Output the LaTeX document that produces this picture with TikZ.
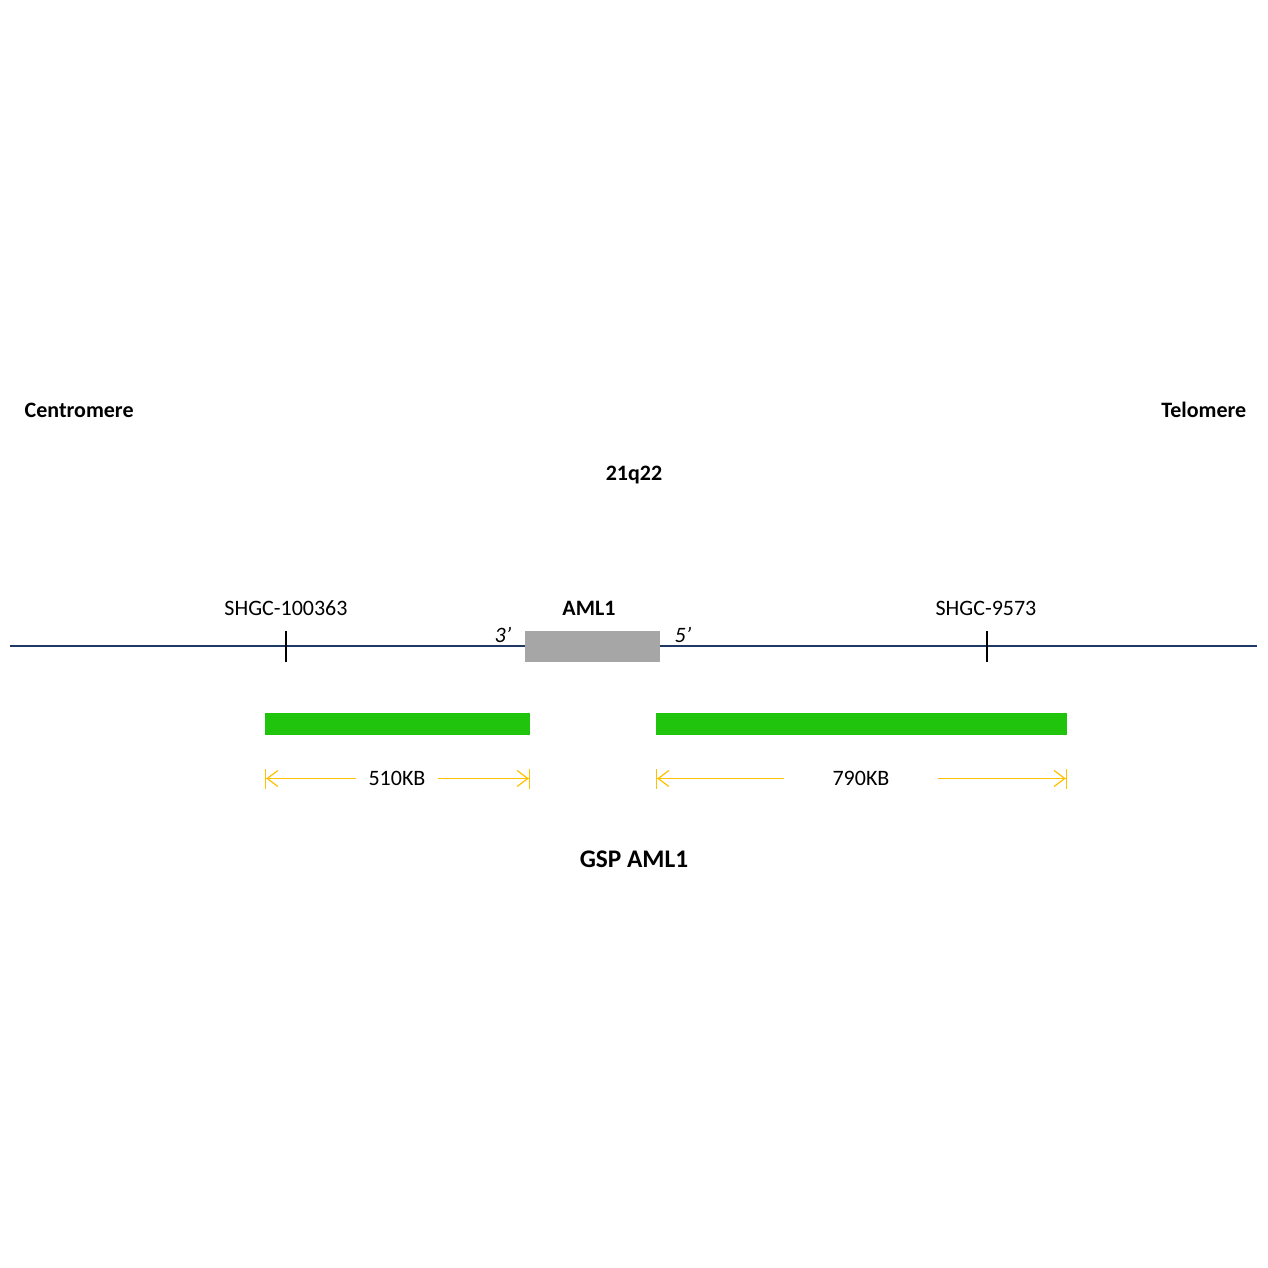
\documentclass[tikz,border=0pt]{standalone}
\usepackage{fontspec}
\setmainfont{Carlito}
\usetikzlibrary{arrows.meta}
\definecolor{chromline}{HTML}{1F3864}
\definecolor{probegreen}{HTML}{21C40C}
\definecolor{genegray}{HTML}{A6A6A6}
\definecolor{dimyellow}{HTML}{FFC000}

\begin{document}
\begin{tikzpicture}[x=0.75pt, y=-0.75pt, font=\fontsize{16.5}{20}\selectfont,
	title/.style={font=\fontsize{16.5}{20}\selectfont\bfseries},
	dim/.style={draw=dimyellow, line width=0.9pt, -{Straight Barb[length=8pt,width=12pt]Bar[width=15pt]}},
	probe/.style={fill=probegreen}]
	\useasboundingbox (0,0) rectangle (1268,1268);

	\node[title, anchor=west] (cen) at (20,410) {Centromere};
	\node[title, anchor=east] (tel) at (1251,410) {Telomere};
	\node[title] (band) at (634,475) {21q22};

	\coordinate (chrL) at (10,646);
	\coordinate (chrR) at (1257,646);
	\draw[chromline, line width=0.9pt] (chrL) -- (chrR);
	\draw[line width=0.9pt] (286,631) -- (286,662);
	\draw[line width=0.9pt] (987,631) -- (987,662);
	\node (m1) at (286,608) {SHGC-100363};
	\node (m2) at (986,608) {SHGC-9573};

	\node[fill=genegray, minimum width=101.25pt, minimum height=23.25pt, inner sep=0pt] (gene) at (592.5,646.5) {};
	\node[title] (genename) at (589,608) {AML1};
	\node[font=\fontsize{16.5}{20}\selectfont\itshape] (end3) at (503,635) {3’};
	\node[font=\fontsize{16.5}{20}\selectfont\itshape] (end5) at (683,635) {5’};

	\fill[probe] (265,713) rectangle (530,735);
	\fill[probe] (656,713) rectangle (1067,735);

	\coordinate (d1a) at (265,778.5);
	\coordinate (d1b) at (530,778.5);
	\coordinate (d2a) at (656,778.5);
	\coordinate (d2b) at (1067,778.5);
	\node[inner xsep=9.5pt] (kb510) at (397,778.5) {510KB};
	\node[inner xsep=36pt] (kb790) at (861,778.5) {790KB};
	\draw[dim] (kb510) -- (d1a);
	\draw[dim] (kb510) -- (d1b);
	\draw[dim] (kb790) -- (d2a);
	\draw[dim] (kb790) -- (d2b);

	\node[font=\fontsize{19}{23}\selectfont\bfseries] (probename) at (634,859) {GSP AML1};
\end{tikzpicture}
\end{document}
